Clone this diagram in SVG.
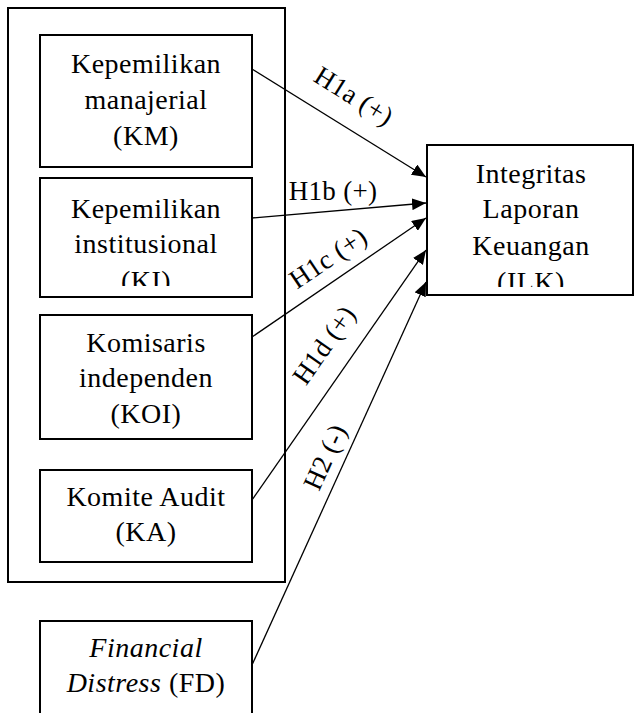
<svg xmlns="http://www.w3.org/2000/svg" width="635" height="713" viewBox="0 0 635 713">
<style>
.box{fill:#fff;stroke:#000;stroke-width:2}
.outer{fill:none;stroke:#000;stroke-width:2}
.t{font-family:"Liberation Serif","Times New Roman",serif;font-size:28px;letter-spacing:0.5px;fill:#000;text-anchor:middle}
.lbl{font-family:"Liberation Serif","Times New Roman",serif;font-size:27px;letter-spacing:0.3px;fill:#000;text-anchor:middle;dominant-baseline:central}
.c{stroke:#000;stroke-width:1.3;fill:none;marker-end:url(#ah)}
</style>
<defs>
<marker id="ah" markerUnits="userSpaceOnUse" markerWidth="14" markerHeight="12" viewBox="0 0 14 12" refX="14" refY="6" orient="auto">
<path d="M0,0 L14,6 L0,12 Z" fill="#000"/>
</marker>
<clipPath id="clipKI"><rect x="40" y="178" width="212" height="108"/></clipPath>
<clipPath id="clipILK"><rect x="427" y="145" width="206" height="142"/></clipPath>
</defs>
<rect class="outer" x="8" y="8" width="277" height="574"/>
<g id="KM">
<rect class="box" x="40" y="35" width="212" height="132"/>
<text class="t" x="146" y="73">Kepemilikan</text>
<text class="t" x="146" y="109">manajerial</text>
<text class="t" x="146" y="145">(KM)</text>
</g>
<g id="KI">
<rect class="box" x="40" y="178" width="212" height="119"/>
<g clip-path="url(#clipKI)">
<text class="t" x="146" y="218">Kepemilikan</text>
<text class="t" x="146" y="253">institusional</text>
<text class="t" x="146" y="290">(KI)</text>
</g>
</g>
<g id="KOI">
<rect class="box" x="40" y="315" width="212" height="124"/>
<text class="t" x="146" y="352">Komisaris</text>
<text class="t" x="146" y="387">independen</text>
<text class="t" x="146" y="423">(KOI)</text>
</g>
<g id="KA">
<rect class="box" x="40" y="470" width="212" height="92"/>
<text class="t" x="146" y="506">Komite Audit</text>
<text class="t" x="146" y="541">(KA)</text>
</g>
<g id="FD">
<rect class="box" x="40" y="621" width="212" height="100"/>
<text class="t" x="146" y="657" font-style="italic">Financial</text>
<text class="t" x="146" y="692"><tspan font-style="italic">Distress</tspan> (FD)</text>
</g>
<g id="ILK">
<rect class="box" x="427" y="145" width="206" height="150"/>
<g clip-path="url(#clipILK)">
<text class="t" x="531" y="183">Integritas</text>
<text class="t" x="531" y="218">Laporan</text>
<text class="t" x="531" y="255">Keuangan</text>
<text class="t" x="531" y="291">(ILK)</text>
</g>
</g>
<g id="connectors">
<line class="c" x1="252" y1="69" x2="426" y2="177"/>
<line class="c" x1="252" y1="218" x2="426" y2="203"/>
<line class="c" x1="252" y1="337" x2="426" y2="218"/>
<line class="c" x1="252" y1="500" x2="426" y2="250"/>
<line class="c" x1="252" y1="665" x2="426" y2="282"/>
<text class="lbl" transform="translate(354,96) rotate(32)">H1a (+)</text>
<text class="lbl" x="333" y="191">H1b (+)</text>
<text class="lbl" transform="translate(328,258) rotate(-34)">H1c (+)</text>
<text class="lbl" transform="translate(324,345) rotate(-55)">H1d (+)</text>
<text class="lbl" transform="translate(325,457) rotate(-65.6)">H2 (-)</text>
</g>
</svg>
